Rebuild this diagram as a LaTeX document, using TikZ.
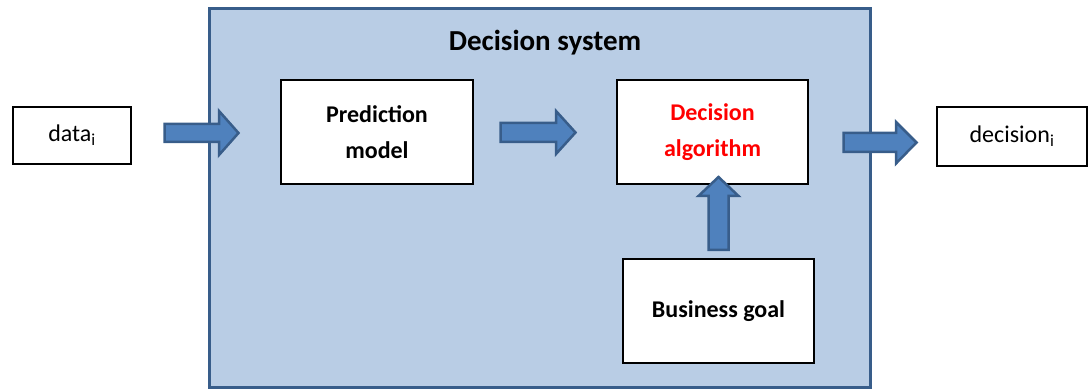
\documentclass[tikz,border=0pt]{standalone}
\usepackage{fontspec}
\setmainfont{Carlito}
\begin{document}
\begin{tikzpicture}[x=1pt,y=-1pt,
  sysbox/.style={draw=arrowedge,fill=sysfill,line width=3pt},
  whitebox/.style={draw=black,fill=white,line width=1.3pt,inner sep=0pt,align=center},
  bodytext/.style={font=\fontsize{24}{36}\selectfont},
  boldtext/.style={font=\fontsize{24}{36}\selectfont\bfseries},
  blockarrow/.style={draw=arrowedge,fill=arrowfill,line width=2.5pt,line join=miter}]
\definecolor{sysfill}{HTML}{B9CDE5}
\definecolor{arrowfill}{HTML}{4F81BD}
\definecolor{arrowedge}{HTML}{385D8A}
\useasboundingbox (0,0) rectangle (1088,390);

% enclosing decision system
\draw[sysbox] (209.5,8.5) rectangle (870.5,387);
\node[font=\fontsize{29}{34}\selectfont\bfseries] (title) at (545,43) {Decision system};

% boxes
\node[whitebox,bodytext,minimum width=118pt,minimum height=57pt] (data) at (72,135.5) {data\textsubscript{i}};
\node[whitebox,boldtext,minimum width=192pt,minimum height=104pt] (pred) at (377,132) {Prediction\\model};
\node[whitebox,boldtext,text=red,minimum width=191pt,minimum height=104pt] (alg) at (712.5,132) {Decision\\algorithm};
\node[whitebox,boldtext,minimum width=191pt,minimum height=104pt] (goal) at (718.5,311) {Business goal};
\node[whitebox,bodytext,minimum width=150pt,minimum height=59pt] (dec) at (1012,136.5) {decision\textsubscript{i}};

% block arrows: data -> system, model -> algorithm, system -> decision
\path[blockarrow] (164.5,124) -- (219,124) -- (219,111) -- (238.5,133) -- (219,155) -- (219,142) -- (164.5,142) -- cycle;
\path[blockarrow] (500.5,123) -- (556,123) -- (556,111) -- (575.5,132.5) -- (556,154) -- (556,142) -- (500.5,142) -- cycle;
\path[blockarrow] (843.5,133) -- (896,133) -- (896,122) -- (916.5,142.5) -- (896,163.5) -- (896,152) -- (843.5,152) -- cycle;
% business goal -> algorithm
\path[blockarrow] (708.5,250) -- (708.5,196) -- (698.5,196) -- (718.5,177) -- (738.5,196) -- (728.5,196) -- (728.5,250) -- cycle;
\end{tikzpicture}
\end{document}
